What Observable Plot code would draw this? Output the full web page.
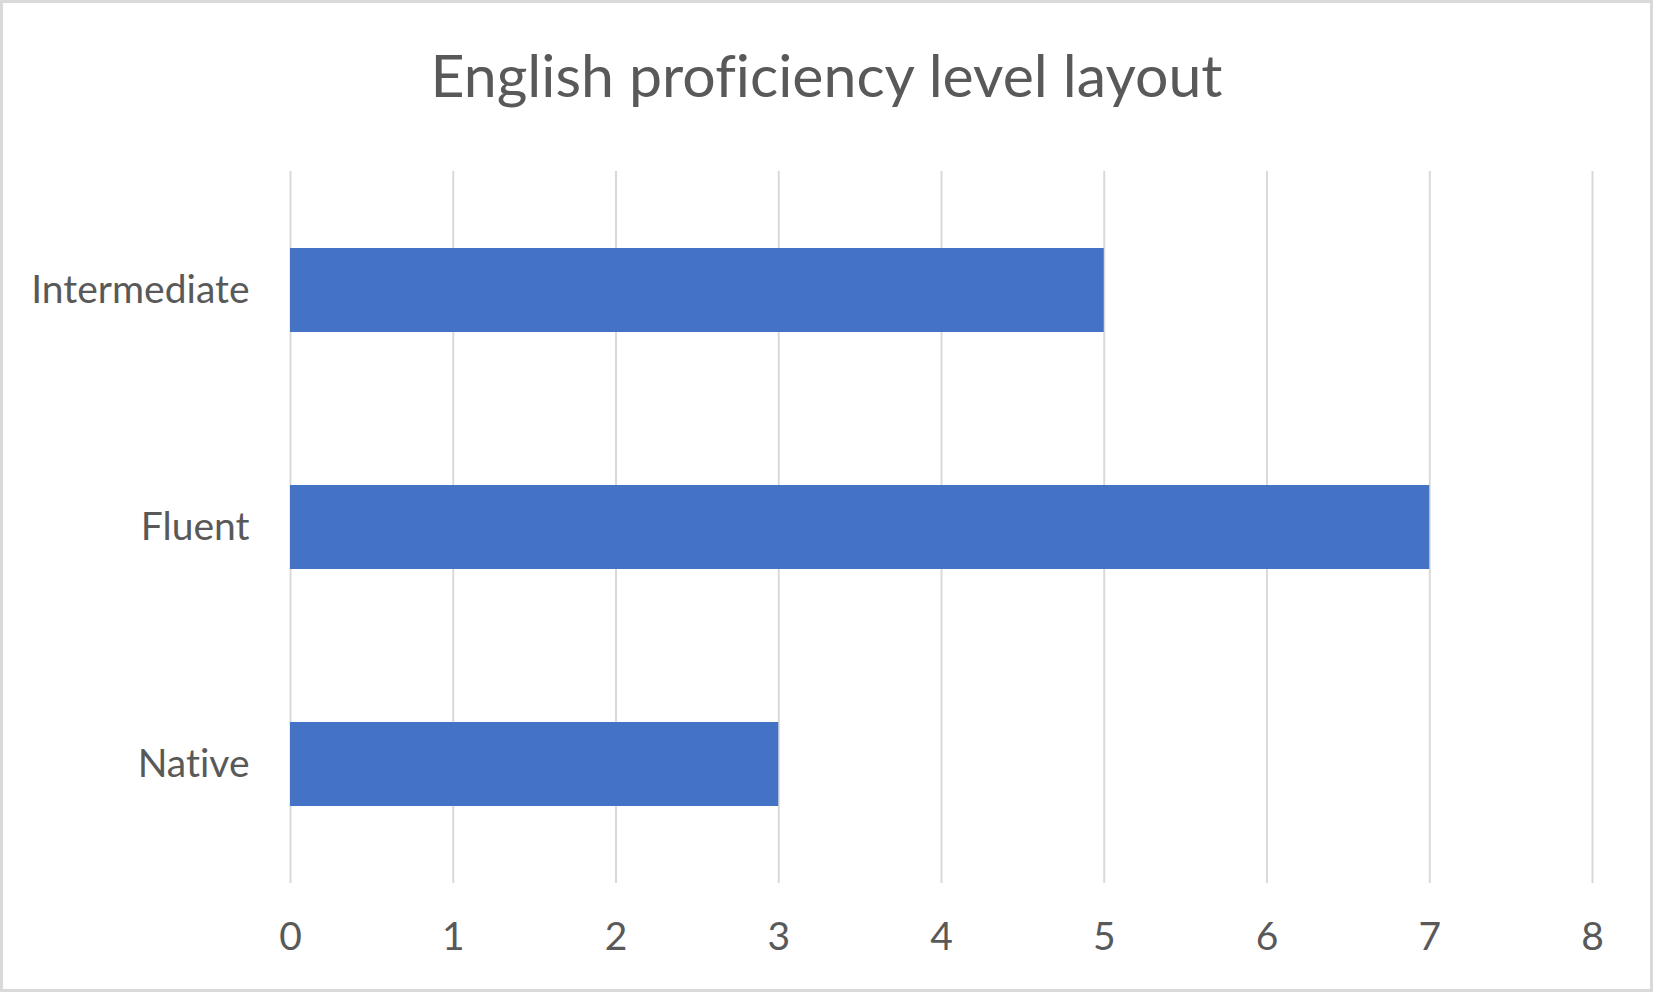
<!DOCTYPE html>
<html>
<head>
<meta charset="utf-8">
<script src="https://cdn.jsdelivr.net/npm/d3@7"></script>
<script src="https://cdn.jsdelivr.net/npm/@observablehq/plot@0.6"></script>
<style>
  html, body { margin: 0; padding: 0; background: #fff; }
  #wrap { position: relative; width: 1653px; height: 992px; background: #fff; overflow: hidden;
          font-variant-ligatures: none; }
  #title { height: 170px; box-sizing: border-box; padding-top: 39px; text-align: center;
           font-family: Lato, sans-serif; font-size: 59px; line-height: normal; color: #595959; white-space: nowrap;
           font-variant-ligatures: none; }
  #frame { position: absolute; left: 0; top: 0; width: 1653px; height: 992px; box-sizing: border-box;
           border: 3px solid #d9d9d9; pointer-events: none; }
  #chart svg { display: block; font-variant-ligatures: none; }
</style>
</head>
<body>
<div id="wrap">
  <div id="title">English proficiency level layout</div>
  <div id="chart"></div>
  <div id="frame"></div>
</div>
<script>
const categories = ["Intermediate", "Fluent", "Native"];
const values = [5, 7, 3];
const xTicks = [0, 1, 2, 3, 4, 5, 6, 7, 8];

const data = categories.map((c, i) => ({category: c, value: values[i]}));

const chart = Plot.plot({
  width: 1653,
  height: 822,
  marginTop: 1,
  marginBottom: 109,
  marginLeft: 290,
  marginRight: 61,
  style: {fontFamily: "Lato, sans-serif", fontSize: "39px", color: "#595959", background: "#fff"},
  x: {domain: [0, 8], ticks: xTicks, tickSize: 0, tickPadding: 39, label: null, tickFormat: d => String(d)},
  y: {domain: categories, paddingInner: 0.645, paddingOuter: 0.3225, tickSize: 0, tickPadding: 41, label: null},
  marks: [
    Plot.ruleX(xTicks, {stroke: "#d9d9d9", strokeWidth: 2}),
    Plot.barX(data, {x: "value", y: "category", fill: "#4472C4"})
  ]
});
document.getElementById("chart").appendChild(chart);
</script>
</body>
</html>
